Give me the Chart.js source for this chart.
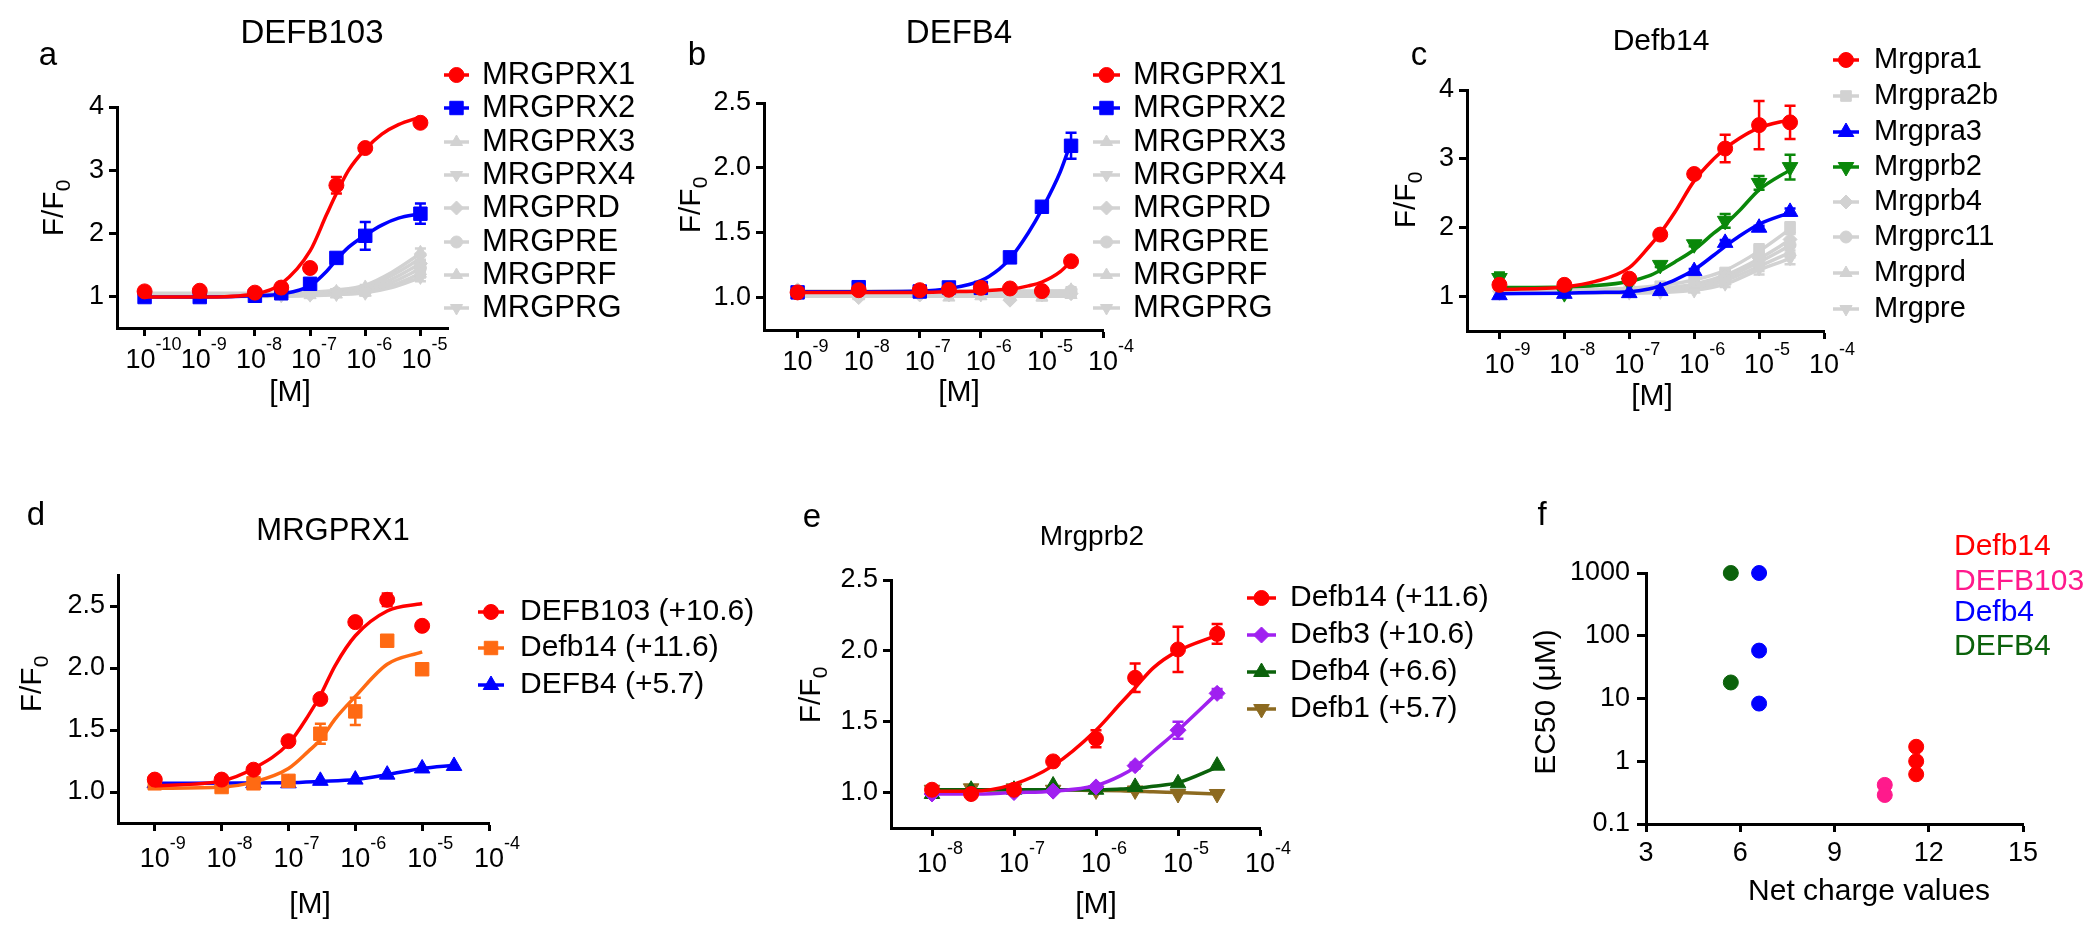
<!DOCTYPE html>
<html>
<head>
<meta charset="utf-8">
<script src="https://cdn.jsdelivr.net/npm/chart.js@4.4.1/dist/chart.umd.min.js"></script>
<style>
  body { margin: 0; background: #fff; width: 2100px; height: 938px; overflow: hidden; position: relative; }
  canvas { position: absolute; }
</style>
</head>
<body>
<canvas id="pa"></canvas>
<canvas id="pb"></canvas>
<canvas id="pc"></canvas>
<canvas id="pd"></canvas>
<canvas id="pe"></canvas>
<canvas id="pf"></canvas>
<script>
'use strict';

// ---- panel a : DEFB103 on human MRGPRs ----
const aConc = [1e-10, 1e-9, 1e-8, 3e-8, 1e-7, 3e-7, 1e-6, 1e-5];
const aX1 = [1.08, 1.09, 1.06, 1.14, 1.45, 2.76, 3.35, 3.75];
const aX1Sem = [0, 0, 0, 0, 0, 0.13, 0.05, 0.03];
const aX2 = [0.99, 0.99, 1.01, 1.05, 1.20, 1.61, 1.96, 2.31];
const aX2Sem = [0, 0, 0, 0, 0.06, 0.05, 0.22, 0.16];
const aFitConc = [1e-10, 1e-9, 1e-8, 3e-8, 1e-7, 2e-7, 3e-7, 5e-7, 1e-6, 2e-6, 4e-6, 1e-5];
const aX1Fit = [0.99, 0.99, 1.04, 1.2, 1.72, 2.3, 2.63, 3.0, 3.33, 3.57, 3.72, 3.84];
const aX2Fit = [0.99, 0.99, 1.01, 1.04, 1.17, 1.4, 1.58, 1.78, 1.97, 2.13, 2.24, 2.31];
const aGrayNames = ['MRGPRX3', 'MRGPRX4', 'MRGPRD', 'MRGPRE', 'MRGPRF', 'MRGPRG'];
const aGray = [
  [1.05, 1.05, 1.05, 1.05, 1.07, 1.08, 1.15, 1.70],
  [1.03, 1.03, 1.03, 1.04, 1.05, 1.07, 1.12, 1.62],
  [1.02, 1.02, 1.02, 1.02, 1.03, 1.05, 1.10, 1.52],
  [1.04, 1.04, 1.04, 1.04, 1.05, 1.06, 1.08, 1.45],
  [1.00, 1.00, 1.00, 1.00, 1.02, 1.03, 1.06, 1.36],
  [1.01, 1.01, 1.01, 1.01, 1.02, 1.03, 1.05, 1.30]
];
const aGraySem = [0, 0, 0, 0, 0, 0, 0.03, 0.06];
const aGrayFitConc = [1e-10, 1e-8, 1e-7, 3e-7, 1e-6, 3e-6, 1e-5];
const aGrayFit = [
  [1.05, 1.05, 1.07, 1.10, 1.18, 1.38, 1.68],
  [1.03, 1.03, 1.05, 1.08, 1.15, 1.33, 1.60],
  [1.02, 1.02, 1.04, 1.06, 1.12, 1.27, 1.52],
  [1.04, 1.04, 1.05, 1.06, 1.10, 1.22, 1.44],
  [1.00, 1.00, 1.01, 1.03, 1.07, 1.17, 1.36],
  [1.01, 1.01, 1.02, 1.03, 1.06, 1.14, 1.30]
];

// ---- panel b : DEFB4 on human MRGPRs ----
const bConc = [1e-9, 1e-8, 1e-7, 3e-7, 1e-6, 3e-6, 1e-5, 3e-5];
const bX1 = [1.04, 1.057, 1.057, 1.06, 1.075, 1.07, 1.05, 1.28];
const bX1Sem = [0, 0, 0, 0, 0, 0, 0, 0.02];
const bX2 = [1.04, 1.08, 1.047, 1.078, 1.075, 1.31, 1.70, 2.17];
const bX2Sem = [0, 0, 0, 0, 0, 0.02, 0.03, 0.10];
const bFitConc = [1e-9, 1e-8, 1e-7, 3e-7, 1e-6, 2e-6, 3e-6, 6e-6, 1e-5, 2e-5, 3e-5];
const bX1Fit = [1.04, 1.04, 1.04, 1.045, 1.05, 1.06, 1.065, 1.09, 1.12, 1.2, 1.28];
const bX2Fit = [1.045, 1.045, 1.05, 1.07, 1.13, 1.22, 1.30, 1.50, 1.68, 1.97, 2.2];
const bGray = [
  [1.05, 1.04, 1.05, 1.04, 1.04, 1.05, 1.05, 1.06],
  [1.04, 1.02, 1.03, 1.03, 1.02, 1.03, 1.04, 1.04],
  [1.06, 1.00, 1.02, 1.02, 1.03, 0.98, 1.02, 1.03],
  [1.03, 1.03, 1.04, 1.03, 1.05, 1.04, 1.06, 1.05],
  [1.02, 1.01, 1.02, 1.00, 1.01, 1.02, 1.00, 1.02],
  [1.04, 1.03, 1.04, 1.02, 1.03, 1.03, 1.03, 1.04]
];
const bGraySem = [0, 0, 0, 0, 0, 0, 0.02, 0.02];
const bGrayFitConc = [1e-9, 1e-6, 3e-5];
const bGrayFit = [
  [1.05, 1.05, 1.05], [1.03, 1.03, 1.03], [1.02, 1.02, 1.02],
  [1.04, 1.04, 1.05], [1.01, 1.01, 1.01], [1.03, 1.03, 1.03]
];

// ---- panel c : Defb14 on mouse Mrgprs ----
const cConc = [1e-9, 1e-8, 1e-7, 3e-7, 1e-6, 3e-6, 1e-5, 3e-5];
const cA1 = [1.17, 1.17, 1.26, 1.90, 2.78, 3.15, 3.49, 3.53];
const cA1Sem = [0, 0.03, 0.03, 0.04, 0.05, 0.20, 0.35, 0.24];
const cA3 = [1.02, 1.04, 1.05, 1.08, 1.37, 1.78, 2.00, 2.23];
const cA3Sem = [0, 0, 0, 0, 0.03, 0.04, 0.03, 0.05];
const cB2 = [1.27, 1.05, 1.20, 1.46, 1.76, 2.10, 2.65, 2.88];
const cB2Sem = [0.08, 0, 0, 0.03, 0.03, 0.10, 0.10, 0.18];
const cFitConc = [1e-9, 1e-8, 3e-8, 1e-7, 2e-7, 3e-7, 5e-7, 1e-6, 2e-6, 3e-6, 5e-6, 1e-5, 3e-5];
const cA1Fit = [1.10, 1.14, 1.22, 1.42, 1.72, 1.92, 2.22, 2.68, 3.0, 3.15, 3.3, 3.45, 3.57];
const cA3Fit = [1.04, 1.05, 1.06, 1.07, 1.11, 1.16, 1.24, 1.39, 1.6, 1.73, 1.88, 2.05, 2.22];
const cB2Fit = [1.13, 1.14, 1.16, 1.22, 1.30, 1.38, 1.50, 1.68, 1.92, 2.05, 2.25, 2.55, 2.84];
const cGrayNames = ['Mrgpra2b', 'Mrgprb4', 'Mrgprc11', 'Mrgprd', 'Mrgpre'];
const cGray = [
  [1.12, 1.10, 1.10, 1.15, 1.22, 1.35, 1.68, 2.00],
  [1.08, 1.08, 1.08, 1.12, 1.16, 1.30, 1.56, 1.83],
  [1.10, 1.07, 1.07, 1.10, 1.13, 1.26, 1.50, 1.75],
  [1.06, 1.06, 1.06, 1.08, 1.10, 1.22, 1.45, 1.65],
  [1.04, 1.05, 1.05, 1.06, 1.08, 1.18, 1.40, 1.55]
];
const cGraySem = [0, 0, 0, 0, 0, 0.04, 0.08, 0.08];
const cGrayFit = [
  [1.10, 1.10, 1.12, 1.16, 1.24, 1.38, 1.66, 1.98],
  [1.08, 1.08, 1.09, 1.12, 1.18, 1.31, 1.55, 1.82],
  [1.07, 1.07, 1.08, 1.10, 1.15, 1.27, 1.50, 1.74],
  [1.06, 1.06, 1.06, 1.08, 1.12, 1.23, 1.44, 1.64],
  [1.05, 1.05, 1.05, 1.06, 1.09, 1.18, 1.39, 1.55]
];

// ---- panel d : MRGPRX1 with three defensins ----
const dConc = [1e-9, 1e-8, 3e-8, 1e-7, 3e-7, 1e-6, 3e-6, 1e-5];
const dB103 = [1.10, 1.10, 1.18, 1.41, 1.75, 2.37, 2.55, 2.34];
const dB103Sem = [0.02, 0.02, 0, 0, 0, 0, 0.05, 0.03];
const dB14 = [1.07, 1.04, 1.07, 1.09, 1.47, 1.65, 2.22, 1.99];
const dB14Sem = [0, 0, 0, 0, 0.08, 0.11, 0, 0];
const dB4Conc = [1e-9, 1e-8, 3e-8, 1e-7, 3e-7, 1e-6, 3e-6, 1e-5, 3e-5];
const dB4 = [1.07, 1.07, 1.07, 1.07, 1.09, 1.10, 1.14, 1.19, 1.21];
const dFitConc = [1e-9, 1e-8, 3e-8, 1e-7, 2e-7, 3e-7, 5e-7, 1e-6, 3e-6, 1e-5];
const dB103Fit = [1.05, 1.09, 1.19, 1.39, 1.62, 1.78, 2.02, 2.26, 2.46, 2.52];
const dB14Fit = [1.03, 1.04, 1.08, 1.19, 1.33, 1.42, 1.59, 1.77, 2.03, 2.13];
const dB4FitConc = [1e-9, 1e-7, 3e-7, 1e-6, 3e-6, 1e-5, 3e-5];
const dB4Fit = [1.07, 1.075, 1.085, 1.10, 1.14, 1.19, 1.215];

// ---- panel e : Mrgprb2 with four mouse defensins ----
const eConc = [1e-8, 3e-8, 1e-7, 3e-7, 1e-6, 3e-6, 1e-5, 3e-5];
const eB14 = [1.02, 0.99, 1.02, 1.22, 1.38, 1.81, 2.01, 2.12];
const eB14Sem = [0, 0, 0, 0, 0.06, 0.10, 0.16, 0.07];
const eB3 = [0.99, 0.99, 1.00, 1.01, 1.04, 1.19, 1.44, 1.70];
const eB3Sem = [0, 0, 0, 0, 0, 0.02, 0.06, 0.03];
const eB4 = [0.99, 1.02, 1.02, 1.05, 1.02, 1.04, 1.065, 1.19];
const eB1 = [1.02, 1.03, 1.03, 1.02, 1.015, 1.015, 0.99, 0.99];
const eFitConc = [1e-8, 3e-8, 1e-7, 3e-7, 1e-6, 2e-6, 3e-6, 5e-6, 1e-5, 3e-5];
const eB14Fit = [1.01, 1.01, 1.06, 1.19, 1.44, 1.63, 1.74, 1.88, 2.00, 2.11];
const eB3Fit = [0.99, 0.99, 1.00, 1.01, 1.05, 1.12, 1.18, 1.29, 1.44, 1.70];
const eB4Fit = [1.02, 1.02, 1.02, 1.02, 1.02, 1.025, 1.03, 1.045, 1.07, 1.18];
const eB1Fit = [1.02, 1.02, 1.02, 1.02, 1.015, 1.012, 1.01, 1.005, 1.0, 0.99];

// ---- panel f : EC50 vs net charge ----
const fDefb14Charge = [11.6, 11.6, 11.6];
const fDefb14Ec50 = [1.7, 1.0, 0.62];
const fDEFB103Charge = [10.6, 10.6];
const fDEFB103Ec50 = [0.42, 0.29];
const fDefb4Charge = [6.6, 6.6, 6.6];
const fDefb4Ec50 = [1000, 58, 8.3];
const fDEFB4Charge = [5.7, 5.7];
const fDEFB4Ec50 = [1000, 18];

const FF = '"Liberation Sans", Arial, Helvetica, sans-serif';
const RED = '#ff0000', BLUE = '#0000ff', GRAY = '#d2d2d2', GREEN = '#0a880a',
      ORANGE = '#ff6a13', PURPLE = '#a020f0', DKGREEN = '#0b620b', BROWN = '#8c6a20', PINK = '#ff1a8c';

const circ = c => ({ color: c, style: 'circle', r: 7.5 });
const sq = c => ({ color: c, style: 'rect', r: 9.5 });
const up = c => ({ color: c, style: 'triangle', r: 9 });
const down = c => ({ color: c, style: 'triangle', r: 9, rot: 180 });
const dia = c => ({ color: c, style: 'rectRot', r: 8 });
const grayStyles = [
  { color: GRAY, style: 'triangle', r: 7 },
  { color: GRAY, style: 'triangle', r: 7, rot: 180 },
  { color: GRAY, style: 'rectRot', r: 7 },
  { color: GRAY, style: 'circle', r: 6 },
  { color: GRAY, style: 'triangle', r: 7 },
  { color: GRAY, style: 'triangle', r: 7, rot: 180 }
];
const cGrayStyles = [
  { color: GRAY, style: 'rect', r: 7.5 },
  { color: GRAY, style: 'rectRot', r: 7 },
  { color: GRAY, style: 'circle', r: 6 },
  { color: GRAY, style: 'triangle', r: 7 },
  { color: GRAY, style: 'triangle', r: 7, rot: 180 }
];

function pts(conc, vals) {
  return conc.map((c, i) => ({ x: c, y: vals[i] }));
}

function series(name, st, conc, vals, sem, fitConc, fitVals) {
  const sets = [];
  if (fitConc) {
    sets.push({
      data: pts(fitConc, fitVals), borderColor: st.color, borderWidth: 3.5, pointRadius: 0,
      cubicInterpolationMode: 'monotone', fill: false, clip: false
    });
  }
  sets.push({
    data: pts(conc, vals), showLine: false, pointStyle: st.style, pointRadius: st.r,
    pointRotation: st.rot || 0, pointBackgroundColor: st.color, pointBorderColor: st.color,
    pointBorderWidth: 1, clip: false, sem: sem, semColor: st.color
  });
  return { name, st, sets };
}

function mark(ctx, st, x, y) {
  ctx.save();
  ctx.fillStyle = st.color;
  ctx.strokeStyle = st.color;
  ctx.lineWidth = 1;
  Chart.helpers.drawPoint(ctx, { pointStyle: st.style, radius: st.r, rotation: st.rot || 0, borderWidth: 1 }, x, y);
  ctx.restore();
}

function txt(ctx, s, x, y, size, color, align, base) {
  ctx.font = size + 'px ' + FF;
  ctx.fillStyle = color || '#000';
  ctx.textAlign = align || 'center';
  ctx.textBaseline = base || 'alphabetic';
  ctx.fillText(s, x, y);
}

function rotTitle(ctx, x, y, size, main, sub) {
  ctx.save();
  ctx.translate(x, y);
  ctx.rotate(-Math.PI / 2);
  ctx.font = size + 'px ' + FF;
  const w1 = ctx.measureText(main).width;
  ctx.font = Math.round(size * 0.7) + 'px ' + FF;
  const w2 = sub ? ctx.measureText(sub).width : 0;
  const x0 = -(w1 + w2) / 2;
  txt(ctx, main, x0, 0, size, '#000', 'left', 'middle');
  if (sub) txt(ctx, sub, x0 + w1, size * 0.3, Math.round(size * 0.7), '#000', 'left', 'middle');
  ctx.restore();
}

function errorBars(chart, index) {
  const ds = chart.data.datasets[index];
  if (!ds.sem) return;
  const ctx = chart.ctx, xs = chart.scales.x, ys = chart.scales.y;
  ctx.save();
  ctx.strokeStyle = ds.semColor;
  ctx.lineWidth = 2.5;
  ds.data.forEach((p, i) => {
    const e = ds.sem[i];
    if (!e) return;
    const x = xs.getPixelForValue(p.x);
    const y1 = ys.getPixelForValue(p.y - e), y2 = ys.getPixelForValue(p.y + e);
    ctx.beginPath();
    ctx.moveTo(x, y1); ctx.lineTo(x, y2);
    ctx.moveTo(x - 5.5, y1); ctx.lineTo(x + 5.5, y1);
    ctx.moveTo(x - 5.5, y2); ctx.lineTo(x + 5.5, y2);
    ctx.stroke();
  });
  ctx.restore();
}

// fixed axis box sizes so the chart areas land where the reference has them
const YW = 80, XH = 50;
const tickGrid = len => ({ display: true, drawOnChartArea: false, drawTicks: true, tickLength: len, tickWidth: 3, tickColor: '#000' });
const axisBorder = { display: true, width: 3, color: '#000' };

function logX(L) {
  return {
    type: 'logarithmic', min: Math.pow(10, L.xMin), max: Math.pow(10, L.xMax),
    afterBuildTicks: s => { s.ticks = L.decades.map(e => ({ value: Math.pow(10, e) })); },
    afterFit: s => { s.height = XH; },
    ticks: { display: false },
    grid: tickGrid(8), border: axisBorder
  };
}

function linY(L) {
  return {
    type: 'linear', min: L.yMin, max: L.yMax,
    afterBuildTicks: s => { s.ticks = L.yTicks.map(v => ({ value: v })); },
    afterFit: s => { s.width = YW; },
    ticks: { color: '#000', padding: 5, font: { size: 27, family: FF }, callback: v => L.yDec ? v.toFixed(1) : String(v) },
    grid: tickGrid(8), border: axisBorder
  };
}

function build(id, L, scales, datasets, drawFn) {
  const cv = document.getElementById(id);
  cv.width = L.box.w; cv.height = L.box.h;
  cv.style.left = L.box.x + 'px'; cv.style.top = L.box.y + 'px';
  datasets.forEach((d, i) => { d.order = datasets.length - i; });
  return new Chart(cv, {
    type: 'line',
    data: { datasets },
    options: {
      responsive: false, animation: false, events: [],
      layout: {
        padding: {
          left: L.area.l - L.box.x - YW, top: L.area.t - L.box.y,
          right: L.box.x + L.box.w - L.area.r, bottom: L.box.y + L.box.h - L.area.b - XH
        }
      },
      plugins: { legend: { display: false }, tooltip: { enabled: false }, title: { display: false } },
      scales
    },
    plugins: [{
      id: 'deco',
      afterDatasetDraw(chart, args) { errorBars(chart, args.index); },
      afterDraw(chart) {
        const ctx = chart.ctx;
        ctx.save();
        ctx.translate(-L.box.x, -L.box.y);
        drawFn(ctx, chart);
        ctx.restore();
      }
    }]
  });
}

// dose-response panel: gray series at the back, first legend entry on top
function dosePanel(id, L, colored, grays) {
  const ds = [];
  grays.forEach(s => ds.push(...s.sets));
  colored.slice().reverse().forEach(s => ds.push(...s.sets));
  const legendItems = L.legendOrder.map(n => colored.concat(grays).find(s => s.name === n));
  build(id, L, { x: logX(L), y: linY(L) }, ds, (ctx, chart) => {
    const xs = chart.scales.x;
    const base = L.area.b + L.labOff;
    xs.ticks.forEach(t => {
      const x = xs.getPixelForValue(t.value) + L.box.x + (L.tickShift || 0);
      const e = Math.round(Math.log10(t.value));
      ctx.font = '27px ' + FF;
      const w = ctx.measureText('10').width;
      txt(ctx, '10', x - w / 2, base, 27, '#000', 'left');
      txt(ctx, String(e), x + w / 2, base - 18, 18, '#000', 'left');
    });
    txt(ctx, L.letter[0], L.letter[1], L.letter[2], 33, '#000', 'center');
    txt(ctx, L.title[0], L.title[1], L.title[2], L.title[3], '#000', 'center');
    txt(ctx, '[M]', L.xTitle[0], L.xTitle[1], 30, '#000', 'center', 'middle');
    rotTitle(ctx, L.yTitle[0], L.yTitle[1], 30, 'F/F', '0');
    const G = L.legend;
    legendItems.forEach((it, i) => {
      const y = G.rows[i];
      ctx.strokeStyle = it.st.color;
      ctx.lineWidth = 3.5;
      ctx.beginPath(); ctx.moveTo(G.x1, y); ctx.lineTo(G.x2, y); ctx.stroke();
      mark(ctx, it.st, (G.x1 + G.x2) / 2, y);
      txt(ctx, it.name, G.tx, y, G.size, '#000', 'left', 'middle');
    });
  });
}

// panel a
dosePanel('pa', {
  box: { x: 0, y: 0, w: 660, h: 470 }, area: { l: 117, r: 448, t: 107, b: 328 },
  xMin: -10.5, xMax: -4.5, decades: [-10, -9, -8, -7, -6, -5], tickShift: -4, labOff: 40,
  yMin: 0.5, yMax: 4, yTicks: [1, 2, 3, 4], yDec: false,
  letter: ['a', 48, 65], title: ['DEFB103', 312, 43, 33], xTitle: [290, 393], yTitle: [55, 208],
  legend: { x1: 444, x2: 469, tx: 482, size: 31, rows: [75, 108, 142, 175, 208, 242, 275, 308] },
  legendOrder: ['MRGPRX1', 'MRGPRX2'].concat(aGrayNames)
}, [
  series('MRGPRX1', circ(RED), aConc, aX1, aX1Sem, aFitConc, aX1Fit),
  series('MRGPRX2', sq(BLUE), aConc, aX2, aX2Sem, aFitConc, aX2Fit)
], aGrayNames.map((n, i) => series(n, grayStyles[i], aConc, aGray[i], aGraySem, aGrayFitConc, aGrayFit[i])));

// panel b
dosePanel('pb', {
  box: { x: 660, y: 0, w: 700, h: 470 }, area: { l: 764, r: 1103, t: 103, b: 330 },
  xMin: -9.55, xMax: -4, decades: [-9, -8, -7, -6, -5, -4], labOff: 40,
  yMin: 0.75, yMax: 2.5, yTicks: [1, 1.5, 2, 2.5], yDec: true,
  letter: ['b', 697, 65], title: ['DEFB4', 959, 43, 33], xTitle: [959, 393], yTitle: [692, 205],
  legend: { x1: 1093, x2: 1120, tx: 1133, size: 31, rows: [75, 108, 142, 175, 208, 242, 275, 308] },
  legendOrder: ['MRGPRX1', 'MRGPRX2'].concat(aGrayNames)
}, [
  series('MRGPRX1', circ(RED), bConc, bX1, bX1Sem, bFitConc, bX1Fit),
  series('MRGPRX2', sq(BLUE), bConc, bX2, bX2Sem, bFitConc, bX2Fit)
], aGrayNames.map((n, i) => series(n, grayStyles[i], bConc, bGray[i], bGraySem, bGrayFitConc, bGrayFit[i])));

// panel c
dosePanel('pc', {
  box: { x: 1380, y: 0, w: 720, h: 470 }, area: { l: 1467, r: 1824, t: 90, b: 331 },
  xMin: -9.5, xMax: -4, decades: [-9, -8, -7, -6, -5, -4], labOff: 42,
  yMin: 0.5, yMax: 4, yTicks: [1, 2, 3, 4], yDec: false,
  letter: ['c', 1419, 65], title: ['Defb14', 1661, 50, 30], xTitle: [1652, 397], yTitle: [1407, 200],
  legend: { x1: 1833, x2: 1859, tx: 1874, size: 29, rows: [60, 96, 132, 167, 202, 237, 273, 309] },
  legendOrder: ['Mrgpra1', 'Mrgpra2b', 'Mrgpra3', 'Mrgprb2', 'Mrgprb4', 'Mrgprc11', 'Mrgprd', 'Mrgpre']
}, [
  series('Mrgpra1', circ(RED), cConc, cA1, cA1Sem, cFitConc, cA1Fit),
  series('Mrgpra3', up(BLUE), cConc, cA3, cA3Sem, cFitConc, cA3Fit),
  series('Mrgprb2', down(GREEN), cConc, cB2, cB2Sem, cFitConc, cB2Fit)
], cGrayNames.map((n, i) => series(n, cGrayStyles[i], cConc, cGray[i], cGraySem, cConc, cGrayFit[i])));

// panel d
dosePanel('pd', {
  box: { x: 0, y: 470, w: 760, h: 468 }, area: { l: 118, r: 489, t: 575, b: 823 },
  xMin: -9.55, xMax: -4, decades: [-9, -8, -7, -6, -5, -4], labOff: 44,
  yMin: 0.75, yMax: 2.75, yTicks: [1, 1.5, 2, 2.5], yDec: true,
  letter: ['d', 36, 525], title: ['MRGPRX1', 333, 540, 31], xTitle: [310, 905], yTitle: [33, 684],
  legend: { x1: 478, x2: 504, tx: 520, size: 30, rows: [612, 648, 685] },
  legendOrder: ['DEFB103 (+10.6)', 'Defb14 (+11.6)', 'DEFB4 (+5.7)']
}, [
  series('DEFB103 (+10.6)', circ(RED), dConc, dB103, dB103Sem, dFitConc, dB103Fit),
  series('Defb14 (+11.6)', sq(ORANGE), dConc, dB14, dB14Sem, dFitConc, dB14Fit),
  series('DEFB4 (+5.7)', up(BLUE), dB4Conc, dB4, null, dB4FitConc, dB4Fit)
], []);

// panel e
dosePanel('pe', {
  box: { x: 760, y: 470, w: 760, h: 468 }, area: { l: 891, r: 1260, t: 580, b: 828 },
  xMin: -8.5, xMax: -4, decades: [-8, -7, -6, -5, -4], labOff: 44,
  yMin: 0.75, yMax: 2.5, yTicks: [1, 1.5, 2, 2.5], yDec: true,
  letter: ['e', 812, 527], title: ['Mrgprb2', 1092, 545, 28], xTitle: [1096, 905], yTitle: [812, 695],
  legend: { x1: 1247, x2: 1276, tx: 1290, size: 30, rows: [598, 635, 672, 709] },
  legendOrder: ['Defb14 (+11.6)', 'Defb3 (+10.6)', 'Defb4 (+6.6)', 'Defb1 (+5.7)']
}, [
  series('Defb14 (+11.6)', circ(RED), eConc, eB14, eB14Sem, eFitConc, eB14Fit),
  series('Defb3 (+10.6)', dia(PURPLE), eConc, eB3, eB3Sem, eFitConc, eB3Fit),
  series('Defb4 (+6.6)', up(DKGREEN), eConc, eB4, null, eFitConc, eB4Fit),
  series('Defb1 (+5.7)', down(BROWN), eConc, eB1, null, eFitConc, eB1Fit)
], []);

// panel f
const fGroups = [
  series('Defb14', circ(RED), fDefb14Charge, fDefb14Ec50, null),
  series('DEFB103', circ(PINK), fDEFB103Charge, fDEFB103Ec50, null),
  series('Defb4', circ(BLUE), fDefb4Charge, fDefb4Ec50, null),
  series('DEFB4', circ(DKGREEN), fDEFB4Charge, fDEFB4Ec50, null)
];
const Lf = { box: { x: 1500, y: 470, w: 600, h: 468 }, area: { l: 1646, r: 2023, t: 573, b: 824 } };
build('pf', Lf, {
  x: {
    type: 'linear', min: 3, max: 15,
    afterBuildTicks: s => { s.ticks = [3, 6, 9, 12, 15].map(v => ({ value: v })); },
    afterFit: s => { s.height = XH; },
    ticks: { color: '#000', padding: 5, font: { size: 27, family: FF } },
    grid: tickGrid(8), border: axisBorder
  },
  y: {
    type: 'logarithmic', min: 0.1, max: 1000,
    afterBuildTicks: s => { s.ticks = [0.1, 1, 10, 100, 1000].map(v => ({ value: v })); },
    afterFit: s => { s.width = YW; },
    ticks: { color: '#000', padding: 7, font: { size: 27, family: FF }, callback: v => String(v) },
    grid: tickGrid(9), border: axisBorder
  }
}, fGroups.map(g => g.sets[0]), (ctx) => {
  txt(ctx, 'f', 1542, 525, 33, '#000', 'center');
  rotTitle(ctx, 1547, 702, 30, 'EC50 (μM)', '');
  txt(ctx, 'Net charge values', 1869, 892, 30, '#000', 'center', 'middle');
  const rows = [547, 582, 613, 647];
  fGroups.forEach((g, i) => txt(ctx, g.name, 1954, rows[i], 30, g.st.color, 'left', 'middle'));
});
</script>
</body>
</html>
